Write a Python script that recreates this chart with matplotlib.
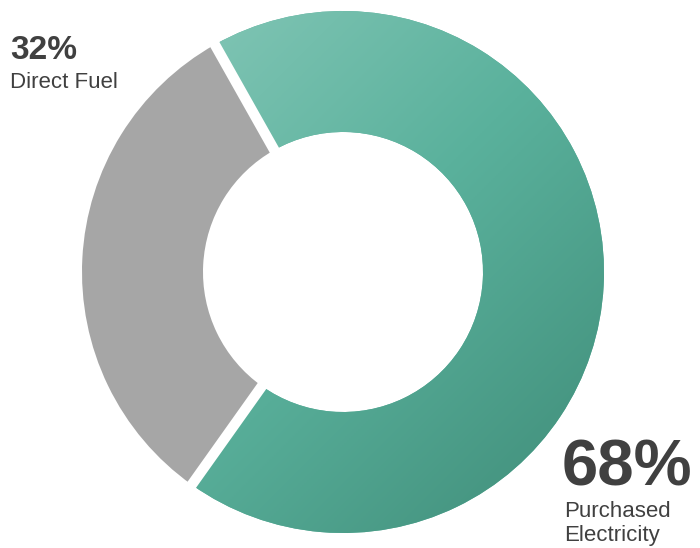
import numpy as np
import matplotlib
matplotlib.use("Agg")
import matplotlib.pyplot as plt
from matplotlib.colors import LinearSegmentedColormap

labels = ["Purchased\nElectricity", "Direct Fuel"]
values = [68, 32]
pct_labels = ["68%", "32%"]

plt.rcParams['font.family'] = ['Liberation Sans', 'DejaVu Sans']

fig = plt.figure(figsize=(7.0, 5.48), dpi=100)
ax = fig.add_axes([0, 0, 1, 1])

cx, cy = 343, 276
R, r_in = 261, 140
start = 234.6
wedges, _ = ax.pie(values, center=(cx, cy), radius=R, startangle=start,
                   colors=["#5bb09c", "#a6a6a6"],
                   wedgeprops=dict(width=R - r_in, edgecolor='none'),
                   frame=True)
ax.set_xlim(0, 700)
ax.set_ylim(0, 548)
ax.set_aspect('equal')
ax.axis('off')

# gradient on the green wedge
cmap = LinearSegmentedColormap.from_list("g", ["#8ccbbc", "#5ab19c", "#3f8c78"])
nx, ny = 300, 300
xs = np.linspace(0, 1, nx)
ys = np.linspace(0, 1, ny)
X, Y = np.meshgrid(xs, ys)
G = (X + (1 - Y)) / 2.0
im = ax.imshow(G, cmap=cmap, extent=(cx - R, cx + R, cy - R, cy + R),
               origin='lower', zorder=wedges[0].get_zorder() + 0.1,
               interpolation='bilinear')
im.set_clip_path(wedges[0])
ax.set_xlim(0, 700)
ax.set_ylim(0, 548)

# white separators at wedge boundaries
total = sum(values)
ang = start
for v in values:
    a = np.deg2rad(ang)
    ax.plot([cx + (r_in - 5) * np.cos(a), cx + (R + 5) * np.cos(a)],
            [cy + (r_in - 5) * np.sin(a), cy + (R + 5) * np.sin(a)],
            color='white', lw=7.5, solid_capstyle='butt', zorder=5)
    ang += 360 * v / total

tc = "#404040"
ax.text(10, 489, pct_labels[1], fontsize=24, fontweight='bold', color=tc,
        ha='left', va='baseline')
ax.text(10, 460, labels[1], fontsize=16, color=tc, ha='left', va='baseline')
ax.text(562, 63, pct_labels[0], fontsize=47, fontweight='bold', color=tc,
        ha='left', va='baseline')
ax.text(564, 31, labels[0].split("\n")[0], fontsize=16, color=tc,
        ha='left', va='baseline')
ax.text(564, 7, labels[0].split("\n")[1], fontsize=16, color=tc,
        ha='left', va='baseline')

fig.savefig("out.png", dpi=100)
